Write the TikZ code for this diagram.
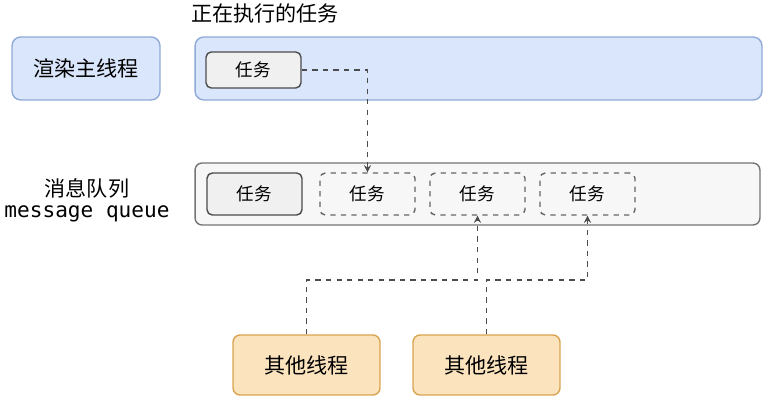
\documentclass[tikz,border=0pt]{standalone}
\usepackage{fontspec}
\setmainfont{Noto Sans CJK SC}
\setmonofont{DejaVu Sans Mono}
\usetikzlibrary{positioning}
\definecolor{blueFill}{HTML}{DAE6FB}
\definecolor{blueLine}{HTML}{8FA9D8}
\definecolor{orangeFill}{HTML}{FBE3BE}
\definecolor{orangeLine}{HTML}{D9A44E}
\tikzstyle{lane} = [rectangle, rounded corners=4pt, draw=black!55, fill=black!3, thick]
\tikzstyle{bluebox} = [rectangle, rounded corners=5pt, draw=blueLine, fill=blueFill, thick]
\tikzstyle{task} = [rectangle, rounded corners=3pt, draw=black!70, fill=black!6,
                    thick, minimum width=1.9cm, minimum height=0.84cm]
\tikzstyle{waiting} = [task, dashed, fill=none, draw=black!60]
\tikzstyle{worker} = [rectangle, rounded corners=4pt, draw=orangeLine, fill=orangeFill,
                    thick, minimum width=2.94cm, minimum height=1.2cm, font=\large]
\tikzstyle{flow} = [->, >=stealth, dashed, black!70, thick]
\begin{document}
\begin{tikzpicture}[x=0.02cm, y=-0.02cm]
    \useasboundingbox (0,0) rectangle (764,408);
    \node (title) [font=\large] at (265,13) {正在执行的任务};
    \node (main) [bluebox, minimum width=2.96cm, minimum height=1.26cm, font=\large] at (86,68.5) {渲染主线程};
    \node (mainlane) [bluebox, minimum width=11.34cm, minimum height=1.26cm] at (478.5,68.5) {};
    \node (cur) [task, minimum height=0.72cm] at (253.5,70) {任务};
    \node (queue) [lane, minimum width=11.3cm, minimum height=1.24cm] at (477.5,194) {};
    \node (qlabel) [align=center, font=\large] at (87,200) {消息队列\\[-2pt]{\ttfamily message queue}};
    \node (q1) [task] at (254.5,194) {任务};
    \node (q2) [waiting] at (367.5,194) {任务};
    \node (q3) [waiting] at (477.5,194) {任务};
    \node (q4) [waiting] at (587.5,194) {任务};
    \node (w1) [worker] at (306.5,365) {其他线程};
    \node (w2) [worker] at (486.5,365) {其他线程};
    \draw[flow] (cur.east) -| (q2.north);
    \draw[flow] (w1.north) |- (477.5,280) -- (q3.south);
    \draw[flow] (w2.north) |- (587.5,280) -- (q4.south);
\end{tikzpicture}
\end{document}
